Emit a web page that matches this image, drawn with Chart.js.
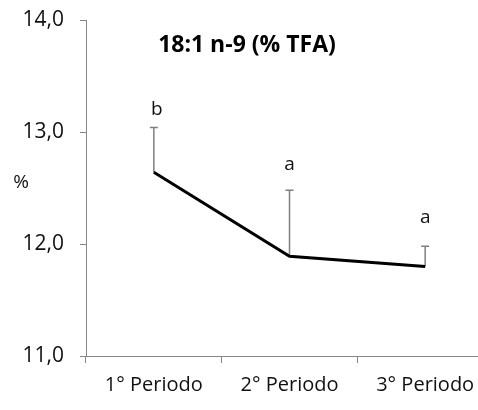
<!DOCTYPE html>
<html>
<head>
<meta charset="utf-8">
<script src="https://cdn.jsdelivr.net/npm/chart.js@4"></script>
<style>
  html, body { margin: 0; padding: 0; background: #fff; overflow: hidden; }
  #wrap { width: 478px; height: 410px; overflow: hidden; }
</style>
</head>
<body>
<div id="wrap"><canvas id="chart" width="500" height="410"></canvas></div>
<script>
// données
const categories = ['1° Periodo', '2° Periodo', '3° Periodo'];
const means = [12.64, 11.89, 11.80];
const errorTops = [13.04, 12.48, 11.98];
const letters = ['b', 'a', 'a'];
const letterValues = [13.20, 12.71, 12.24];
const yTicks = [11, 12, 13, 14];

const axisGray = '#878787';
const fontFamily = '"Open Sans", sans-serif';

// barres d'erreur (vers le haut seulement) + lettres
const errorBarsPlugin = {
    id: 'errorBars',
    beforeDatasetsDraw(chart) {
        const ctx = chart.ctx;
        const x = chart.scales.x;
        const y = chart.scales.y;
        ctx.save();
        ctx.strokeStyle = '#7f7f7f';
        ctx.lineWidth = 1.5;
        means.forEach((m, i) => {
            const px = x.getPixelForValue(i);
            const y0 = y.getPixelForValue(m);
            const y1 = y.getPixelForValue(errorTops[i]);
            ctx.beginPath();
            ctx.moveTo(px, y0);
            ctx.lineTo(px, y1);
            ctx.moveTo(px - 4, y1);
            ctx.lineTo(px + 4, y1);
            ctx.stroke();
        });
        ctx.restore();
    },
    afterDatasetsDraw(chart) {
        const ctx = chart.ctx;
        const x = chart.scales.x;
        const y = chart.scales.y;
        const area = chart.chartArea;
        ctx.save();
        ctx.fillStyle = '#111';
        ctx.textAlign = 'center';
        ctx.textBaseline = 'middle';
        ctx.font = '19px ' + fontFamily;
        letters.forEach((l, i) => {
            ctx.fillText(l, x.getPixelForValue(i) + (l === 'b' ? 3 : 0), y.getPixelForValue(letterValues[i]));
        });
        // titre
        ctx.font = 'bold 23px ' + fontFamily;
        ctx.fillStyle = '#000';
        ctx.fillText('18:1 n-9 (% TFA)', area.left + 161, area.top + 25);
        // "%" horizontal
        ctx.font = '19px ' + fontFamily;
        ctx.fillStyle = '#111';
        ctx.fillText('%', 21, y.getPixelForValue(12.55));
        ctx.restore();
    }
};

new Chart(document.getElementById('chart'), {
    type: 'line',
    data: {
        labels: categories,
        datasets: [{
            data: means,
            borderColor: '#000',
            borderWidth: 3,
            pointRadius: 0,
            tension: 0,
            fill: false
        }]
    },
    options: {
        responsive: false,
        animation: false,
        devicePixelRatio: 1,
        layout: { padding: { top: 20, right: 7, left: 0, bottom: 0 } },
        plugins: {
            legend: { display: false },
            tooltip: { enabled: false }
        },
        scales: {
            x: {
                offset: true,
                grid: {
                    offset: true,
                    drawOnChartArea: false,
                    drawTicks: true,
                    tickLength: 7,
                    color: axisGray
                },
                border: { color: axisGray, width: 1 },
                ticks: {
                    color: '#111',
                    padding: 10,
                    maxRotation: 0,
                    font: { family: fontFamily, size: 20 }
                },
                afterFit: s => { s.height = 54; s.paddingLeft = 0; s.paddingRight = 0; }
            },
            y: {
                min: 11,
                max: 14,
                afterBuildTicks: s => { s.ticks = yTicks.map(v => ({ value: v })); },
                grid: {
                    drawOnChartArea: false,
                    drawTicks: true,
                    tickLength: 6,
                    color: axisGray
                },
                border: { color: axisGray, width: 1 },
                ticks: {
                    color: '#111',
                    padding: 16,
                    font: { family: fontFamily, size: 21 },
                    callback: v => v.toFixed(1).replace('.', ',')
                },
                afterFit: s => { s.width = 86; s.paddingTop = 0; s.paddingBottom = 0; }
            }
        }
    },
    plugins: [errorBarsPlugin]
});
</script>
</body>
</html>
